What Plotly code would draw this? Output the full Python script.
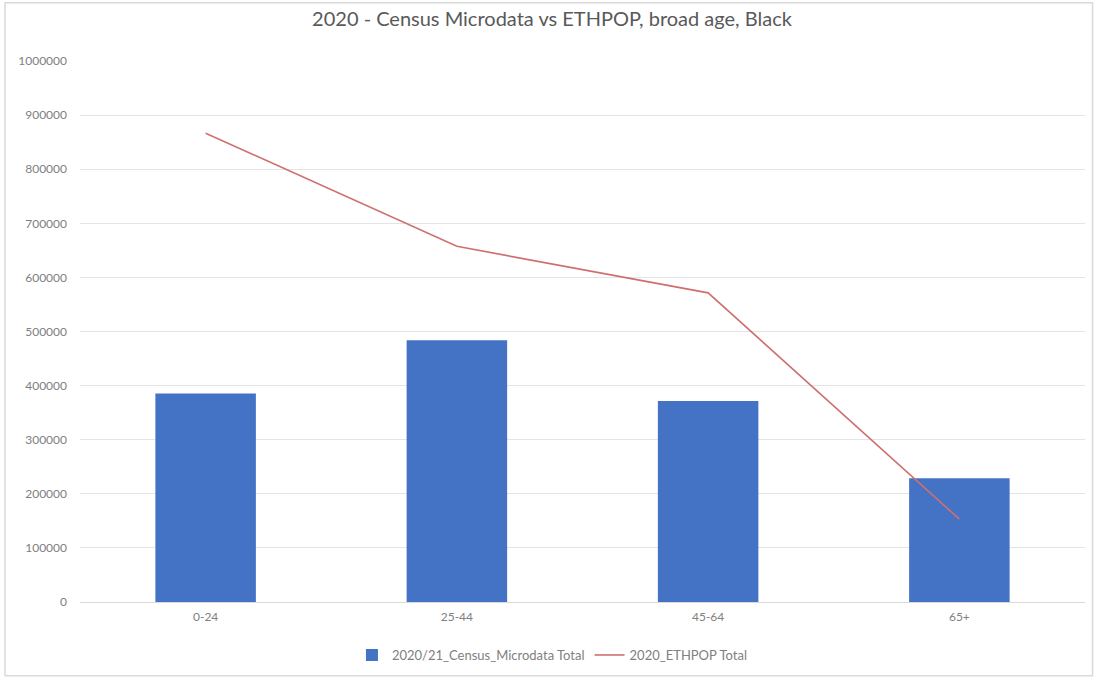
import plotly.graph_objects as go

# Broad age groups and totals for the Black ethnic group
age_groups = ["0-24", "25-44", "45-64", "65+"]
census_microdata_total = [385600, 484000, 371400, 228800]
ethpop_total = [866600, 657400, 571400, 153100]
y_ticks = [0, 100000, 200000, 300000, 400000, 500000, 600000, 700000, 800000, 900000, 1000000]

title_text = "2020 - Census Microdata vs ETHPOP, broad age, Black"
bar_name = "2020/21_Census_Microdata Total"
line_name = "2020_ETHPOP Total"

FONT = "Lato, Carlito, Calibri, sans-serif"
TEXT_GREY = "#595959"
LABEL_GREY = "#808080"

fig = go.Figure()

fig.add_trace(go.Bar(
    x=age_groups,
    y=census_microdata_total,
    name=bar_name,
    marker=dict(color="#4472C4", line=dict(width=0)),
))

fig.add_trace(go.Scatter(
    x=age_groups,
    y=ethpop_total,
    name=line_name,
    mode="lines",
    line=dict(color="#CF7070", width=1.6),
))

# Outer chart-area border
fig.add_shape(
    type="rect", xref="paper", yref="paper",
    x0=-0.0746, x1=1.0075, y0=-0.1365, y1=1.1075,
    line=dict(color="#D9D9D9", width=1.5),
    fillcolor="rgba(0,0,0,0)", layer="below",
)

fig.update_layout(
    width=1104,
    height=678,
    margin=dict(l=80, r=19, t=61, b=76, autoexpand=False),
    paper_bgcolor="white",
    plot_bgcolor="white",
    font=dict(family=FONT, color=TEXT_GREY),
    title=dict(
        text=title_text,
        x=0.5, xref="container", xanchor="center",
        y=1 - 19 / 678, yanchor="middle",
        font=dict(family=FONT, size=20, color=TEXT_GREY),
    ),
    bargap=0.6,
    showlegend=True,
    legend=dict(
        orientation="h",
        x=0.4696, xanchor="center",
        y=-0.098, yanchor="middle",
        font=dict(family=FONT, size=13, color=LABEL_GREY),
        itemwidth=30,
        bgcolor="rgba(0,0,0,0)",
    ),
    xaxis=dict(
        type="category",
        showgrid=False,
        showline=True,
        linecolor="#D9D9D9",
        linewidth=1,
        ticks="",
        tickfont=dict(family=FONT, size=12, color=LABEL_GREY),
        ticklabelstandoff=4,
        automargin=False,
    ),
    yaxis=dict(
        range=[0, 1000000],
        tickvals=y_ticks,
        tickformat="d",
        showgrid=True,
        gridcolor="#E4E4E4",
        gridwidth=1,
        zeroline=False,
        showline=False,
        ticks="",
        tickfont=dict(family=FONT, size=12, color=LABEL_GREY),
        ticklabelstandoff=12,
        automargin=False,
    ),
)

fig.write_html("out.html")
